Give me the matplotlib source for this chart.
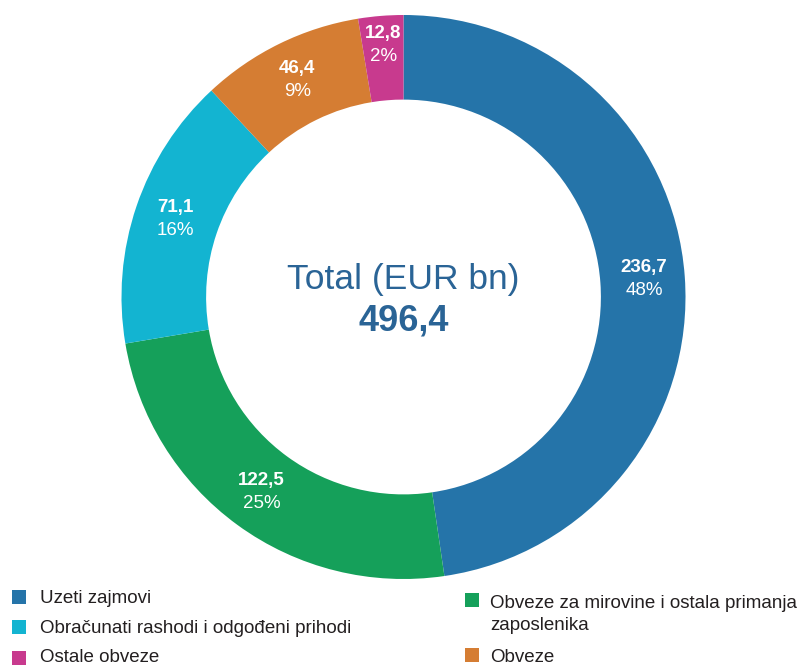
import matplotlib
matplotlib.use("Agg")
import matplotlib.pyplot as plt
from matplotlib.patches import Rectangle
import numpy as np

plt.rcParams['font.family'] = ['Liberation Sans', 'DejaVu Sans']

# Data (clockwise from top)
categories = ["Uzeti zajmovi",
              "Obveze za mirovine i ostala primanja\nzaposlenika",
              "Obračunati rashodi i odgođeni prihodi",
              "Obveze",
              "Ostale obveze"]
value_labels = ["236,7", "122,5", "71,1", "46,4", "12,8"]
pct_labels = ["48%", "25%", "16%", "9%", "2%"]
# slice sizes as read from the drawn ring (EUR bn)
slice_sizes = [236.7, 122.5, 78.0, 46.4, 12.8]
total_label = "496,4"
colors = ["#2574A9", "#15A05A", "#13B4D1", "#D57D33", "#C83A8E"]

W, H = 803, 665
fig = plt.figure(figsize=(W / 100, H / 100), dpi=100)

cx, cy, R = 403.5, 297, 282
ax = fig.add_axes([(cx - R) / W, 1 - (cy + R) / H, 2 * R / W, 2 * R / H])
wedges, _ = ax.pie(slice_sizes, colors=colors, startangle=90, counterclock=False,
                   radius=1.0, wedgeprops=dict(width=0.30, linewidth=0))
ax.set_xlim(-1, 1)
ax.set_ylim(-1, 1)
ax.set_aspect('equal')
ax.axis('off')

# slice labels
tot = sum(slice_sizes)
dy = 11.5 / R
for w, s, v, p in zip(wedges, slice_sizes, value_labels, pct_labels):
    lab_r = 0.895 if s / tot < 0.05 else 0.855
    ang = np.deg2rad((w.theta1 + w.theta2) / 2)
    x, y = lab_r * np.cos(ang), lab_r * np.sin(ang)
    ax.text(x, y + dy, v, ha='center', va='center', color='white',
            fontsize=13.5, fontweight='bold')
    ax.text(x, y - dy, p, ha='center', va='center', color='white', fontsize=13.5)

# center text
ax.text(0, (cy - 279) / R, "Total (EUR bn)", ha='center', va='center',
        color='#2A6496', fontsize=25.5)
ax.text(0, (cy - 321) / R, total_label, ha='center', va='center',
        color='#2A6496', fontsize=26, fontweight='bold')

# legend (manual layout): square x, square center y, text x, first baseline y
legend_pos = [
    (12, 596.5, 40, 603),
    (465, 599.5, 490, 608),
    (12, 626.5, 40, 633),
    (465, 655, 490, 662),
    (12, 658, 40, 662),
]
sq = 14
for (sx, sy, tx, by), lab, col in zip(legend_pos, categories, colors):
    fig.patches.append(Rectangle((sx / W, 1 - (sy + sq / 2) / H), sq / W, sq / H,
                                 transform=fig.transFigure, facecolor=col,
                                 edgecolor='none'))
    for i, line in enumerate(lab.split("\n")):
        fig.text(tx / W, 1 - (by + 22 * i) / H, line, ha='left', va='baseline',
                 fontsize=13.5, color='#231F20')

fig.savefig("out.png", dpi=100)
